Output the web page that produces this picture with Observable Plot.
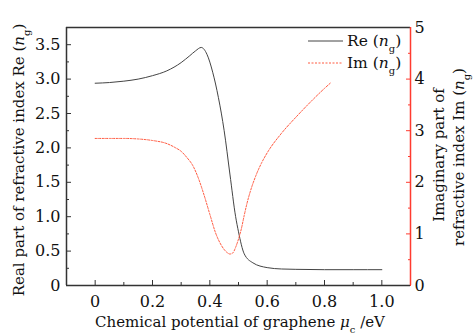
<!DOCTYPE html>
<html><head><meta charset="utf-8">
<script src="https://cdn.jsdelivr.net/npm/d3@7"></script>
<script src="https://cdn.jsdelivr.net/npm/@observablehq/plot@0.6"></script>
<style>
body{margin:0;background:#fff;}
#chart svg, #chart svg text{font-family:"DejaVu Serif", serif !important;}
</style>
</head><body>
<div id="chart"></div>
<script>
// Real part of refractive index Re(n_g)
const muRe = [0, 0.05, 0.1, 0.15, 0.2, 0.25, 0.3, 0.33, 0.35, 0.37, 0.39, 0.41, 0.43, 0.45, 0.47, 0.49, 0.5, 0.52, 0.55, 0.6, 0.65, 0.7, 0.8, 0.9, 1.0];
const reVals = [2.94, 2.95, 2.97, 3.0, 3.05, 3.12, 3.24, 3.34, 3.41, 3.46, 3.36, 3.1, 2.73, 2.25, 1.62, 1.0, 0.78, 0.46, 0.33, 0.26, 0.24, 0.235, 0.23, 0.23, 0.23];
// Imaginary part Im(n_g)
const muIm = [0, 0.05, 0.1, 0.15, 0.2, 0.25, 0.28, 0.3, 0.32, 0.34, 0.36, 0.38, 0.4, 0.42, 0.44, 0.46, 0.47, 0.48, 0.49, 0.5, 0.51, 0.52, 0.53, 0.54, 0.56, 0.58, 0.6, 0.65, 0.7, 0.75, 0.8, 0.82];
const imVals = [2.85, 2.85, 2.85, 2.84, 2.81, 2.75, 2.67, 2.6, 2.48, 2.33, 2.08, 1.75, 1.38, 1.02, 0.78, 0.64, 0.61, 0.63, 0.74, 0.9, 1.1, 1.36, 1.6, 1.8, 2.12, 2.37, 2.57, 2.95, 3.26, 3.55, 3.82, 3.92];
// ticks
const xTicks = [0, 0.2, 0.4, 0.6, 0.8, 1.0];
const xMinor = [-0.1, 0.1, 0.3, 0.5, 0.7, 0.9, 1.1];
const yTicks = [0, 0.5, 1.0, 1.5, 2.0, 2.5, 3.0, 3.5];
const yMinor = [0.25, 0.75, 1.25, 1.75, 2.25, 2.75, 3.25];
const y2Ticks = [0, 1, 2, 3, 4, 5];
const y2Minor = [0.5, 1.5, 2.5, 3.5, 4.5];
const ratio = 0.75; // left (Re) units per right (Im) unit

const reData = muRe.map((m, i) => ({mu: m, v: reVals[i]}));
const imData = muIm.map((m, i) => ({mu: m, v: imVals[i] * ratio}));

const FONT = "DejaVu Serif";
const dark = "#333";
const red = "#ff3b2f";
const fmt = d => d === 0 ? "0" : d.toFixed(1);
const none = () => "";
const common = {fontSize: 15, fill: "#111", label: null};

const plot = Plot.plot({
  width: 474, height: 333,
  marginLeft: 66, marginRight: 64, marginTop: 27, marginBottom: 48,
  style: {fontFamily: FONT, fontSize: "15px", color: "#111", background: "#fff"},
  x: {domain: [-0.1, 1.1]},
  y: {domain: [0, 3.75]},
  marks: [
    Plot.axisX({...common, ticks: xTicks, tickSize: -5, tickFormat: fmt, tickPadding: 15, stroke: dark}),
    Plot.axisX({...common, ticks: xMinor, tickSize: -3, tickFormat: none, stroke: dark}),
    Plot.axisY({...common, ticks: yTicks, tickSize: -5, tickFormat: fmt, tickPadding: 11, stroke: dark}),
    Plot.axisY({...common, ticks: yMinor, tickSize: -3, tickFormat: none, stroke: dark}),
    Plot.axisY({...common, anchor: "right", ticks: y2Ticks.map(d => d * ratio), tickSize: -5, tickFormat: d => String(Math.round(d / ratio)), tickPadding: 9, stroke: red}),
    Plot.axisY({...common, anchor: "right", ticks: y2Minor.map(d => d * ratio), tickSize: -3, tickFormat: none, stroke: red}),
    Plot.ruleY([0], {stroke: dark, strokeWidth: 1.5}),
    Plot.ruleY([3.75], {stroke: dark, strokeWidth: 1.5}),
    Plot.ruleX([-0.1], {stroke: dark, strokeWidth: 1.5}),
    Plot.ruleX([1.1], {stroke: red, strokeWidth: 1.5}),
    Plot.line(reData, {x: "mu", y: "v", stroke: "#444", strokeWidth: 1, curve: "monotone-x"}),
    Plot.line(imData, {x: "mu", y: "v", stroke: "#ff5a40", strokeWidth: 1, strokeDasharray: "2,1.5", curve: "monotone-x"})
  ]
});
document.getElementById("chart").appendChild(plot);

const svg = d3.select(plot);
svg.selectAll('g[aria-label$="tick label"]').attr("font-size", 16).attr("font-family", FONT);
svg.selectAll('g[aria-label$="tick label"] text').attr("font-size", 16).style("font-size", "16px");
function label(g, parts) {
  parts.forEach(p => {
    const t = g.append("tspan").text(p.t);
    if (p.i) t.attr("font-style", "italic");
    if (p.sub) t.attr("baseline-shift", "sub").attr("font-size", "10px");
  });
}
function txt(sel, size = 15) {
  return sel.append("text").attr("font-family", FONT).attr("font-size", size).attr("fill", "#111");
}
// x label
let t = txt(svg).attr("x", 240).attr("y", 327).attr("text-anchor", "middle");
label(t, [{t: "Chemical potential of graphene "}, {t: "μ", i: true}, {t: "c", sub: true}, {t: " /eV"}]);
// left y label
t = txt(svg).attr("transform", "translate(24,160) rotate(-90)").attr("text-anchor", "middle");
label(t, [{t: "Real part of refractive index Re ("}, {t: "n", i: true}, {t: "g", sub: true}, {t: ")"}]);
// right y label
t = txt(svg).attr("transform", "translate(444,155) rotate(-90)").attr("text-anchor", "middle");
label(t, [{t: "Imaginary part of"}]);
t = txt(svg).attr("transform", "translate(464,157) rotate(-90)").attr("text-anchor", "middle");
label(t, [{t: "refractive index Im ("}, {t: "n", i: true}, {t: "g", sub: true}, {t: ")"}]);
// legend
const lg = svg.append("g");
lg.append("line").attr("x1", 308).attr("x2", 343).attr("y1", 41).attr("y2", 41).attr("stroke", "#444");
lg.append("line").attr("x1", 308).attr("x2", 343).attr("y1", 63).attr("y2", 63).attr("stroke", "#ff5a40").attr("stroke-dasharray", "2,1.5");
t = txt(lg, 15.5).attr("x", 347).attr("y", 46).attr("text-anchor", "start");
label(t, [{t: "Re ("}, {t: "n", i: true}, {t: "g", sub: true}, {t: ")"}]);
t = txt(lg, 15.5).attr("x", 347).attr("y", 68).attr("text-anchor", "start");
label(t, [{t: "Im ("}, {t: "n", i: true}, {t: "g", sub: true}, {t: ")"}]);
</script>
</body></html>
